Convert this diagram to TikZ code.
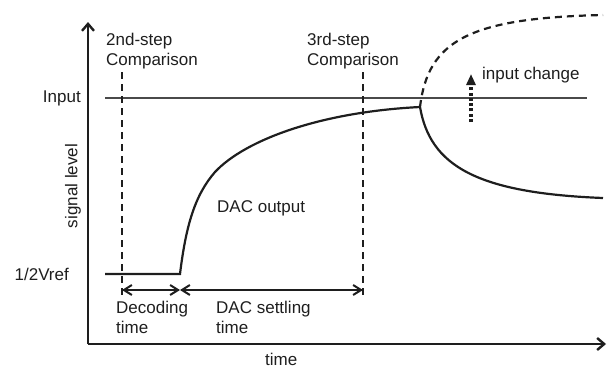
\documentclass[tikz,border=0pt]{standalone}
\usepackage{fontspec}
\setmainfont{Liberation Sans}
\usetikzlibrary{arrows.meta}
\definecolor{ink}{HTML}{1E1E1E}
\definecolor{inputgray}{HTML}{4A4A4A}
\tikzset{
  axisline/.style={draw=ink, line width=2.8pt, -{Straight Barb[length=7pt,width=12pt,line width=2.4pt]}},
  curve/.style={draw=ink, line width=2.2pt},
  markline/.style={draw=ink, line width=2.2pt, dash pattern=on 7pt off 5pt},
  spanarrow/.style={draw=ink, line width=2.2pt, {Straight Barb[length=8pt,width=10pt,line width=2pt]}-{Straight Barb[length=8pt,width=10pt,line width=2pt]}},
  changearrow/.style={draw=ink, line width=3.2pt, dash pattern=on 3pt off 2.3pt, -{Triangle[length=11pt,width=9pt]}},
  lbl/.style={text=ink, inner sep=0pt, font=\fontsize{17}{20}\selectfont},
  mlbl/.style={lbl, align=left, anchor=north west}
}
\begin{document}
\begin{tikzpicture}[x=1pt,y=-1pt]
\useasboundingbox (0,0) rectangle (613,370);
% axes
\coordinate (origin) at (88,344);
\coordinate (ytop) at (88,22);
\coordinate (xend) at (606,344);
\draw[axisline] (origin) -- (ytop);
\draw[axisline] (origin) -- (xend);
% input level
\coordinate (inL) at (105,98);
\coordinate (inR) at (587,98);
\draw[draw=inputgray, line width=2.6pt] (inL) -- (inR);
% comparison markers
\coordinate (c2top) at (122,72);
\coordinate (c2bot) at (122,298);
\coordinate (c3top) at (363,72);
\coordinate (c3bot) at (363,297);
\draw[markline] (c2top) -- (c2bot);
\draw[markline] (c3top) -- (c3bot);
% DAC output
\coordinate (flatL) at (105,274);
\coordinate (rise) at (180,274);
\coordinate (mid) at (215,172);
\coordinate (settle) at (420,107);
\coordinate (upEnd) at (603,15);
\coordinate (downEnd) at (603,198);
\draw[curve] (flatL) -- (rise) .. controls (186,225) and (195,195) .. (mid)
  .. controls (245,140) and (320,112) .. (settle);
\draw[curve, dash pattern=on 7pt off 5pt] (settle) .. controls (428,40) and (470,18) .. (upEnd);
\draw[curve] (settle) .. controls (430,165) and (475,193) .. (downEnd);
% time spans
\coordinate (s1) at (122,290);
\coordinate (s2) at (180,290);
\coordinate (s3) at (363,290);
\draw[spanarrow] (s1) -- (s2);
\draw[spanarrow] (s2) -- (s3);
% input change arrow
\coordinate (chB) at (471,122);
\coordinate (chT) at (471,74);
\draw[changearrow] (chB) -- (chT);
% labels
\node[lbl, anchor=east] (input) at (81,98) {Input};
\node[lbl, anchor=east] (vref) at (69,274) {1/2Vref};
\node[lbl, rotate=90] (sig) at (73,186) {signal level};
\node[mlbl] (cmp2) at (106,32.5) {2nd-step\\Comparison};
\node[mlbl] (cmp3) at (307,32.5) {3rd-step\\Comparison};
\node[lbl, anchor=base west] (chg) at (482,79) {input change};
\node[lbl, anchor=base west] (dac) at (217,212) {DAC output};
\node[mlbl] (dec) at (116,300.6) {Decoding\\time};
\node[mlbl] (set) at (216,300.6) {DAC settling\\time};
\node[lbl, anchor=base west] (tm) at (265,365) {time};
\end{tikzpicture}
\end{document}
